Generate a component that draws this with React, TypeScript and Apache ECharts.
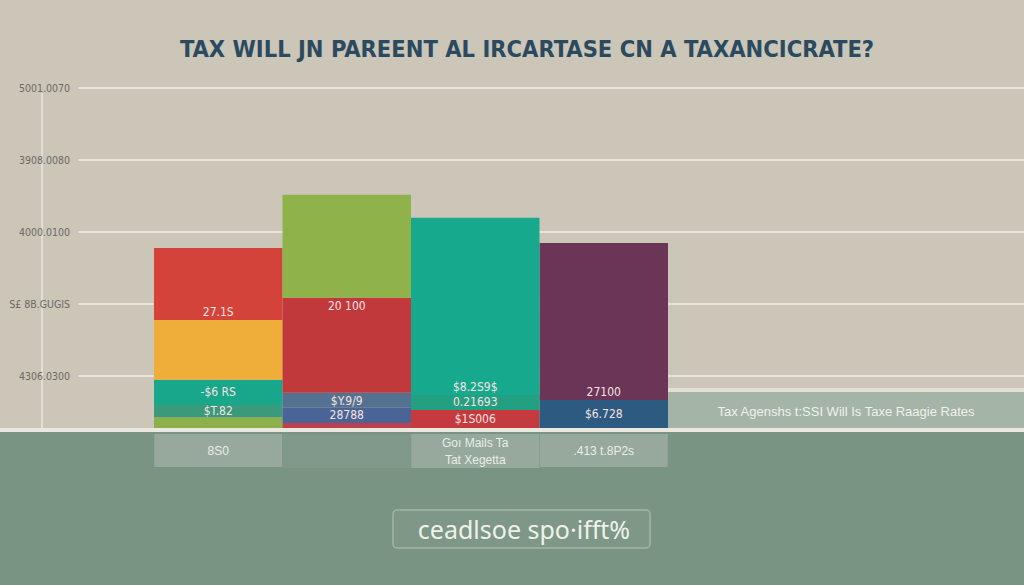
import React, { useEffect, useRef } from "react";
import * as echarts from "echarts";

const titleText = "TAX WILL JN PAREENT AL IRCARTASE CN A TAXANCICRATE?";
const categories = ["8S0", "", "Goı Mails Ta\nTat Xegetta", ".413 t.8P2s"];
const yTickLabels = ["4306.0300", "S£ 8B.GUGIS", "4000.0100", "3908.0080", "5001.0070"];

// stacked layers, bottom to top
const layer0 = [0.15, 0.07, 0.25, 0.39];
const layer1 = [0.17, 0.21, 0.21, 2.18];
const layer2 = [0.35, 0.21, 2.46, null];
const layer3 = [0.83, 1.32, null, null];
const layer4 = [1.0, 1.43, null, null];

const labels0 = ["", "", "$1S006", "$6.728"];
const labels1 = ["$T.82", "28788", "0.21693", "27100"];
const labels2 = ["-$6 RS", "$Y.9/9", "$8.2S9$", ""];
const labels3 = ["", "20 100", "", ""];
const labels4 = ["27.1S", "", "", ""];

const legendText = "Tax Agenshs t:SSI Will Is Taxe Raagie Rates";
const buttonText = "ceadlsoe spo·ifft%";

const colors0 = ["#8cb04b", "#bb4150", "#c53a3f", "#2c5a80"];
const colors1 = ["#3a9a7b", "#4a6595", "#239f82", "#6b3558"];
const colors2 = ["#19a78c", "#54728f", "#17a98d", "#000"];
const colors3 = ["#efad3a", "#c2393b", "#000", "#000"];
const colors4 = ["#d4433a", "#8fb24b", "#000", "#000"];

const pos0 = ["inside", "inside", "inside", "inside"];
const pos1 = ["inside", "inside", "inside", "insideBottom"];
const pos2 = ["inside", "insideTop", "insideBottom", "inside"];
const pos3 = ["inside", "insideTop", "inside", "inside"];
const pos4 = ["insideBottom", "inside", "inside", "inside"];

function makeSeries(values: (number | null)[], colors: string[], labels: string[], pos: string[]) {
  return {
    type: "bar",
    xAxisIndex: 1,
    yAxisIndex: 1,
    stack: "total",
    barCategoryGap: "0%",
    data: values.map((v, i) => ({
      value: v === null ? "-" : v,
      itemStyle: { color: colors[i] },
      label: {
        show: !!labels[i],
        formatter: labels[i] || "",
        position: pos[i],
        distance: 2,
        color: "#f6e2e2",
        fontSize: 12,
        fontFamily: "DejaVu Sans Condensed, sans-serif",
      },
    })),
  };
}

const cellText = { fontSize: 12, color: "#e8eee8", width: 128, align: "center", fontFamily: "Liberation Sans, sans-serif" };

export default function App() {
  const ref = useRef<HTMLDivElement>(null);
  useEffect(() => {
    if (!ref.current) return;
    const chart = echarts.init(ref.current, undefined, { renderer: "svg" });
    chart.setOption({
      animation: false,
      backgroundColor: "#cbc6b8",
      title: {
        text: titleText,
        left: 522,
        textAlign: "center",
        top: 32,
        textStyle: {
          fontFamily: "DejaVu Sans Condensed, sans-serif",
          fontWeight: "bold",
          fontSize: 23.5,
          color: "#2b4a60",
        },
      },
      grid: [
        { left: 78, right: 0, top: 88, bottom: 585 - 376 },
        { left: 154, right: 1024 - 668, top: 88, bottom: 585 - 428 },
      ],
      xAxis: [
        { type: "value", gridIndex: 0, show: false, min: 0, max: 1 },
        {
          type: "category",
          gridIndex: 1,
          data: categories,
          axisLine: { show: false },
          axisTick: { show: false },
          axisLabel: {
            margin: 6,
            interval: 0,
            formatter: (v: string) => {
              if (!v) return "{d| }";
              const lines = v.split("\n");
              const key = lines.length > 1 ? "m" : "s";
              return lines.map((l) => `{${key}|${l}}`).join("\n");
            },
            rich: {
              s: { ...cellText, lineHeight: 33, height: 33, backgroundColor: "#97a99c" },
              m: { ...cellText, lineHeight: 17, height: 17, backgroundColor: "#97a99c" },
              d: { ...cellText, lineHeight: 34, height: 34, backgroundColor: "#80998a" },
            },
          },
        },
      ],
      yAxis: [
        {
          type: "value",
          gridIndex: 0,
          min: 1,
          max: 5,
          interval: 1,
          axisLine: { show: false },
          axisTick: { show: false },
          splitLine: { show: true, lineStyle: { color: "#e6e2d8", width: 2 } },
          axisLabel: {
            margin: 8,
            color: "#6a6a66",
            fontSize: 10.5,
            fontFamily: "DejaVu Sans Condensed, sans-serif",
            formatter: (v: number) => yTickLabels[Math.round(v) - 1] || "",
          },
        },
        { type: "value", gridIndex: 1, min: 0, max: 340 / 72, show: false },
      ],
      series: [
        makeSeries(layer0, colors0, labels0, pos0),
        makeSeries(layer1, colors1, labels1, pos1),
        makeSeries(layer2, colors2, labels2, pos2),
        makeSeries(layer3, colors3, labels3, pos3),
        makeSeries(layer4, colors4, labels4, pos4),
      ],
      graphic: [
        { type: "line", z: 0, shape: { x1: 42, y1: 93, x2: 42, y2: 428 }, style: { stroke: "#e3dfd5", lineWidth: 2 } },
        { type: "rect", z: 0, shape: { x: 0, y: 432, width: 1024, height: 153 }, style: { fill: "#7a9483" } },
        { type: "rect", z: 0, shape: { x: 0, y: 428, width: 1024, height: 4 }, style: { fill: "#ebe8df" } },
        { type: "rect", z: 5, shape: { x: 668, y: 388, width: 356, height: 4 }, style: { fill: "#e3dfd5" } },
        { type: "rect", z: 5, shape: { x: 668, y: 392, width: 356, height: 36 }, style: { fill: "#a4b4a6" } },
        {
          type: "text",
          z: 6,
          x: 846,
          y: 411,
          style: {
            text: legendText,
            fill: "#eef2ec",
            fontSize: 13,
            fontFamily: "Liberation Sans, sans-serif",
            align: "center",
            verticalAlign: "middle",
          },
        },
        {
          type: "rect",
          z: 5,
          shape: { x: 393, y: 510, width: 257, height: 38, r: 4 },
          style: { fill: "rgba(255,255,255,0.03)", stroke: "#a2b5a7", lineWidth: 1.5 },
        },
        {
          type: "text",
          z: 6,
          x: 524,
          y: 529,
          style: {
            text: buttonText,
            fill: "#eef2ea",
            fontSize: 25,
            fontFamily: "Noto Sans, sans-serif",
            align: "center",
            verticalAlign: "middle",
          },
        },
      ],
    });
    return () => chart.dispose();
  }, []);
  return <div ref={ref} style={{ position: "fixed", left: 0, top: 0, width: 1024, height: 585 }} />;
}
